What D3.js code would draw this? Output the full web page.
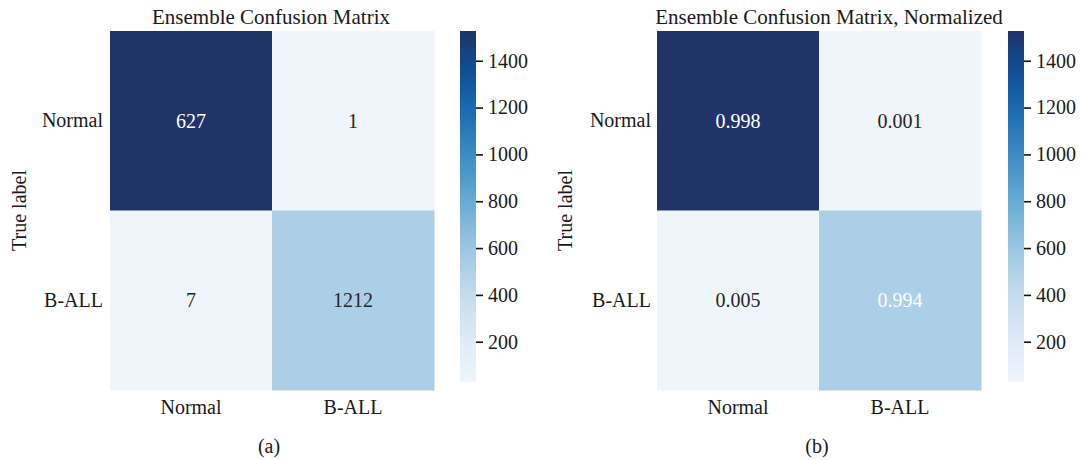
<!DOCTYPE html>
<html>
<head>
<meta charset="utf-8">
<script src="https://cdn.jsdelivr.net/npm/d3@7"></script>
<style>
  html, body { margin: 0; padding: 0; background: #fff; }
  svg text { font-family: "Liberation Serif", "Times New Roman", serif; fill: #1a1a1a; }
</style>
</head>
<body>
<svg id="chart" width="1081" height="460"></svg>
<script>
// ---- data ----
const classes = ["Normal", "B-ALL"];
const counts = [[627, 1], [7, 1212]];
const normalized = [[0.998, 0.001], [0.005, 0.994]];
// colour intensity of each cell, in colour-bar units
const cellShade = [[1527, 28], [28, 530]];
const colorbarDomain = [28, 1527];
const colorbarTicks = [200, 400, 600, 800, 1000, 1200, 1400];
const panelTitles = ["Ensemble Confusion Matrix", "Ensemble Confusion Matrix, Normalized"];
const panelTags = ["(a)", "(b)"];
const yAxisTitle = "True label";

// ---- layout / style ----
const panels = [
  { values: counts, fmt: d3.format("d"), title: panelTitles[0], tag: panelTags[0],
    heat: { x0: 110, x1: 434 }, titleX: 271, tagX: 269, yTitleX: 19, cbX: 460,
    lightText: [[true, false], [false, false]] },
  { values: normalized, fmt: d3.format(".3f"), title: panelTitles[1], tag: panelTags[1],
    heat: { x0: 657, x1: 981 }, titleX: 829, tagX: 817, yTitleX: 565, cbX: 1008,
    lightText: [[true, false], [false, true]] }
];
const heatY0 = 31, heatY1 = 390;
const cbW = 16, cbY0 = 31, cbY1 = 382;
const fontSize = 20;

const svg = d3.select("#chart");
// Blues palette with a slightly muted light end and navy end
const blues = d3.schemeBlues[9].slice();
blues[0] = "#eff5fb";
blues[8] = "#1f3468";
const color = d3.scaleSequential(d3.interpolateRgbBasis(blues)).domain(colorbarDomain);

// shared colour-bar gradient
const defs = svg.append("defs");
const grad = defs.append("linearGradient").attr("id", "cbGrad")
  .attr("x1", 0).attr("y1", 1).attr("x2", 0).attr("y2", 0);
d3.range(0, 1.0001, 0.05).forEach(t => {
  grad.append("stop").attr("offset", t)
    .attr("stop-color", color(colorbarDomain[0] + t * (colorbarDomain[1] - colorbarDomain[0])));
});

panels.forEach(p => {
  const g = svg.append("g");
  const x = d3.scaleBand().domain(classes).range([p.heat.x0, p.heat.x1]);
  const y = d3.scaleBand().domain(classes).range([heatY0, heatY1]);

  const cells = [];
  classes.forEach((r, i) => classes.forEach((c, j) => cells.push({ r, c, i, j })));

  g.selectAll("rect.cell").data(cells).join("rect")
    .attr("class", "cell")
    .attr("x", d => x(d.c)).attr("y", d => y(d.r))
    .attr("width", x.bandwidth() + 0.5).attr("height", y.bandwidth() + 0.5)
    .attr("fill", d => color(cellShade[d.i][d.j]));

  g.selectAll("text.ann").data(cells).join("text")
    .attr("class", "ann")
    .attr("x", d => x(d.c) + x.bandwidth() / 2)
    .attr("y", d => y(d.r) + y.bandwidth() / 2)
    .attr("text-anchor", "middle").attr("dy", "0.35em")
    .style("font-size", fontSize + "px")
    .style("fill", d => p.lightText[d.i][d.j] ? "#ffffff" : "#262626")
    .text(d => p.fmt(p.values[d.i][d.j]));

  // axes (tick lines hidden, labels only)
  const xAxis = g.append("g").attr("transform", `translate(0,${heatY1})`)
    .call(d3.axisBottom(x).tickSize(0).tickPadding(10));
  xAxis.select(".domain").remove();
  xAxis.selectAll("text").style("font-size", fontSize + "px").attr("dy", "0.71em").attr("y", 10);

  const yAxis = g.append("g").attr("transform", `translate(${p.heat.x0},0)`)
    .call(d3.axisLeft(y).tickSize(0).tickPadding(p === panels[0] ? 7 : 6));
  yAxis.select(".domain").remove();
  yAxis.selectAll("text").style("font-size", fontSize + "px");

  g.append("text")
    .attr("transform", `translate(${p.yTitleX},${(heatY0 + heatY1) / 2}) rotate(-90)`)
    .attr("text-anchor", "middle").attr("dy", "0.35em")
    .style("font-size", fontSize + "px")
    .text(yAxisTitle);

  g.append("text").attr("x", p.titleX).attr("y", 24)
    .attr("text-anchor", "middle").style("font-size", "21px").text(p.title);

  g.append("text").attr("x", p.tagX).attr("y", 453)
    .attr("text-anchor", "middle").style("font-size", fontSize + "px").text(p.tag);

  // colour bar
  const cb = g.append("g");
  cb.append("rect").attr("x", p.cbX).attr("y", cbY0)
    .attr("width", cbW).attr("height", cbY1 - cbY0)
    .attr("fill", "url(#cbGrad)");
  const cbScale = d3.scaleLinear().domain(colorbarDomain).range([cbY1, cbY0]);
  const cbAxis = cb.append("g").attr("transform", `translate(${p.cbX + cbW},0)`)
    .call(d3.axisRight(cbScale).tickValues(colorbarTicks).tickSize(7).tickPadding(5).tickFormat(d3.format("d")));
  cbAxis.select(".domain").remove();
  cbAxis.selectAll("line").attr("stroke", "#111").attr("stroke-width", 1.6);
  cbAxis.selectAll("text").style("font-size", fontSize + "px");
});
</script>
</body>
</html>
